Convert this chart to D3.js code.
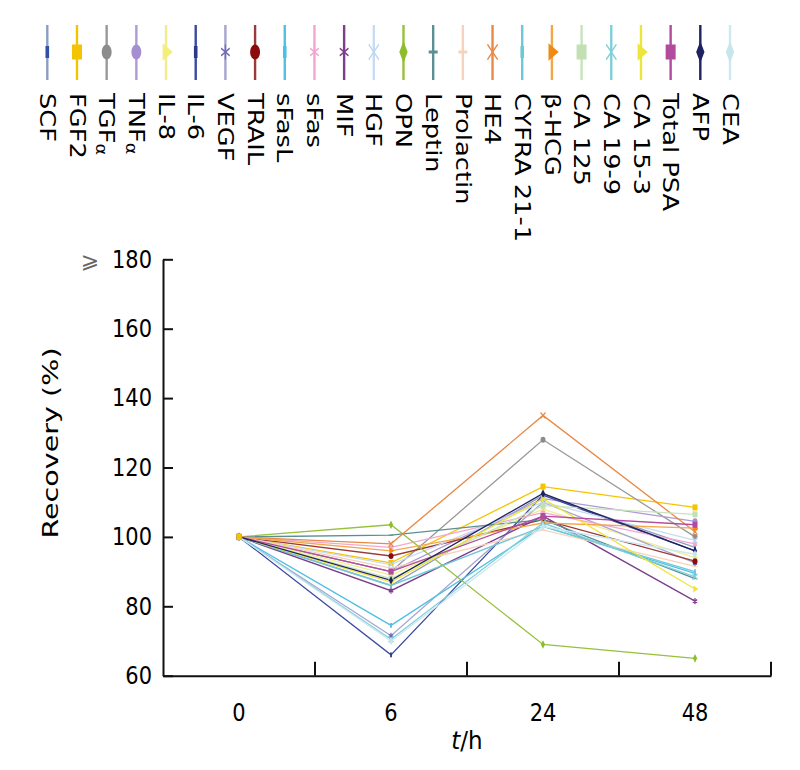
<!DOCTYPE html>
<html><head><meta charset="utf-8">
<script src="https://cdn.jsdelivr.net/npm/d3@7"></script>
<style>body{margin:0;background:#fff}svg{display:block}</style>
</head><body>
<script>
const timeLabels = ['0', '6', '24', '48'];
const markerNames = ['SCF','FGF2','TGFα','TNFα','IL-8','IL-6','VEGF','TRAIL','sFasL','sFas','MIF','HGF','OPN','Leptin','Prolactin','HE4','CYFRA 21-1','β-HCG','CA 125','CA 19-9','CA 15-3','Total PSA','AFP','CEA'];
const recovery0h  = [100,100,100,100,100,100,100,100,100,100,100,100,100,100,100,100,100,100,100,100,100,100,100,100];
const recovery6h  = [86, 92.5, 90, 90, 89, 66, 71.5, 94.5, 74.5, 97, 84.5, 92, 103.5, 100.5, 91, 98, 86, 96, 88, 70.5, 87, 90, 87.5, 70];
const recovery24h = [112, 114.5, 128, 111, 108, 112, 110, 105, 103, 107, 106, 110, 69, 105, 102, 135, 103, 104, 109, 104, 111, 106, 112.5, 103];
const recovery48h = [97, 108.5, 100, 104.5, 94, 96, 92.5, 93, 89.5, 98, 81.5, 99, 65, 88, 91.5, 101.5, 90, 102.5, 106.5, 88.5, 85, 103.5, 96, 95];
const yTicks = [60, 80, 100, 120, 140, 160, 180];

const lineColors = ['#8e9cc0','#f5c400','#999999','#b09ad6','#f1ec8c','#3a4a9e','#a7a5cf','#9c3a3a','#4fc0e3','#f3a6cf','#7b3f8c','#c7dcf2','#97c13b','#5b8f96','#f7d2bd','#e88945','#6ec9d6','#f2a84a','#c8e3bc','#7fcfd9','#eee53a','#b24a9e','#1e2260','#cde8f0'];
const markColors = ['#2f4fa8','#f5c400','#8c8c8c','#a68fd0','#f3ef7a','#2d3a8c','#6e6bb8','#8b0c0c','#4fc0e3','#f3a6cf','#7b3f8c','#bcd6f0','#8dbd2a','#5b8f96','#f7d2bd','#e88945','#6ec9d6','#f08a14','#c2e0b4','#7fcfd9','#eee53a','#b24a9e','#1e2260','#c6e6ee'];
const markTypes = ['dash','square','circle','circle','tri','dash','star','circle','dash','star','star','x','diamond','hdash','hdash','x','dash','tri','square','x','tri','square','diamond','diamond'];

const W = 800, H = 770;
const svg = d3.select('body').append('svg').attr('width', W).attr('height', H);
const FONT = 'DejaVu Sans, Verdana, sans-serif';

const x = d3.scaleBand().domain(timeLabels).range([163, 771]);
const y = d3.scaleLinear().domain([60, 180]).range([675.7, 259.3]);

function drawMarker(g, type, color, size, sy) {
  const t = g.append('g').attr('transform', `scale(1,${sy})`);
  if (type === 'square') t.append('rect').attr('x', -size/2).attr('y', -size/2).attr('width', size).attr('height', size).attr('fill', color);
  else if (type === 'circle') t.append('circle').attr('r', size/2).attr('fill', color);
  else if (type === 'tri') t.append('path').attr('d', d3.symbol(d3.symbolTriangle, size*size*0.6)()).attr('transform','rotate(90)').attr('fill', color);
  else if (type === 'diamond') t.append('path').attr('d', d3.symbol(d3.symbolDiamond, size*size*0.6)()).attr('fill', color);
  else if (type === 'star') t.append('path').attr('d', d3.symbol(d3.symbolAsterisk, size*size*0.7)()).attr('stroke', color).attr('stroke-width', 1.2).attr('fill','none');
  else if (type === 'x') t.append('path').attr('d', d3.symbol(d3.symbolTimes, size*size*0.7)()).attr('stroke', color).attr('stroke-width', 1.2).attr('fill','none');
  else if (type === 'dash') t.append('rect').attr('x', -size*0.18).attr('y', -size*0.4).attr('width', size*0.36).attr('height', size*0.8).attr('fill', color);
  else if (type === 'hdash') t.append('rect').attr('x', -size*0.45).attr('y', -size*0.1).attr('width', size*0.9).attr('height', size*0.2).attr('fill', color);
}

// Legend
const legX = d3.scaleLinear().domain([0, markerNames.length - 1]).range([47.3, 730]);
markerNames.forEach((name, i) => {
  const g = svg.append('g').attr('transform', `translate(${legX(i)},0)`);
  g.append('line').attr('y1', 25).attr('y2', 80).attr('stroke', lineColors[i]).attr('stroke-width', 2.4);
  const mg = g.append('g').attr('transform', 'translate(0,52)');
  drawMarker(mg, markTypes[i], markColors[i], 10, 1.5);
  const txt = g.append('text').attr('transform', 'translate(0,93) scale(1,1.17) rotate(90)')
    .attr('font-family', FONT).attr('font-size', 22).attr('dominant-baseline', 'central').attr('fill', '#000');
  if (name.endsWith('α')) {
    txt.append('tspan').text(name.slice(0, -1));
    txt.append('tspan').attr('font-size', 15).attr('dy', 5).text('α');
  } else txt.text(name);
});

// Data lines
const allVals = markerNames.map((n, i) => [recovery0h[i], recovery6h[i], recovery24h[i], recovery48h[i]]);
const line = d3.line().x((d, j) => x(timeLabels[j]) + x.bandwidth()/2).y(d => y(d));
const plot = svg.append('g');
allVals.forEach((vals, i) => {
  plot.append('path').attr('d', line(vals)).attr('fill', 'none').attr('stroke', lineColors[i]).attr('stroke-width', 1.3);
});
allVals.forEach((vals, i) => {
  vals.forEach((v, j) => {
    const mg = plot.append('g').attr('transform', `translate(${x(timeLabels[j]) + x.bandwidth()/2},${y(v)})`);
    drawMarker(mg, markTypes[i], markColors[i], 5, 1.2);
  });
});
// FGF2 marker on top at 0 h, as in the reference
plot.append('g').attr('transform', `translate(${x(timeLabels[0]) + x.bandwidth()/2},${y(recovery0h[1])})`)
  .call(g => drawMarker(g, markTypes[1], markColors[1], 5, 1.2));

// Axes
const yAxis = d3.axisLeft(y).tickValues(yTicks).tickSizeInner(-10).tickSizeOuter(0).tickPadding(10);
const gy = svg.append('g').attr('transform', 'translate(163,0)').call(yAxis);
gy.select('.domain').attr('stroke', '#111').attr('stroke-width', 2);
gy.selectAll('.tick line').attr('stroke', '#111').attr('stroke-width', 2);
gy.selectAll('.tick text').attr('font-family', FONT).attr('font-size', 21).attr('fill', '#000')
  .attr('x', -11).attr('transform', 'scale(1,1.15)');

const xAxis = d3.axisBottom(x).tickSize(0).tickPadding(20);
const gx = svg.append('g').attr('transform', 'translate(0,675.7)').call(xAxis);
gx.select('.domain').attr('stroke', '#111').attr('stroke-width', 2);
gx.selectAll('.tick text').attr('font-family', FONT).attr('font-size', 21).attr('fill', '#000')
  .attr('y', 39).attr('dy', 0).attr('transform', 'scale(1,1.15)');
// band boundary ticks (pointing up)
const bounds = timeLabels.slice(1).map(t => x(t)).concat([x.range()[1]]);
gx.selectAll('.bnd').data(bounds).enter().append('line')
  .attr('x1', d => d).attr('x2', d => d).attr('y1', 0).attr('y2', -14)
  .attr('stroke', '#111').attr('stroke-width', 2);

svg.append('text').attr('x', 90).attr('y', 268).attr('font-family', FONT).attr('font-size', 22)
  .attr('fill', '#666').attr('text-anchor', 'middle').text('⩾');

svg.append('text').attr('transform', 'translate(50,443) scale(1,1.3) rotate(-90)').attr('text-anchor', 'middle')
  .attr('dominant-baseline', 'central').attr('font-family', FONT).attr('font-size', 22).attr('fill', '#000').text('Recovery (%)');

const xt = svg.append('text').attr('transform', 'translate(467,749) scale(1,1.1)').attr('text-anchor', 'middle')
  .attr('font-family', FONT).attr('font-size', 23).attr('fill', '#000');
xt.append('tspan').attr('font-style', 'italic').text('t');
xt.append('tspan').text('/h');
</script>
</body></html>
